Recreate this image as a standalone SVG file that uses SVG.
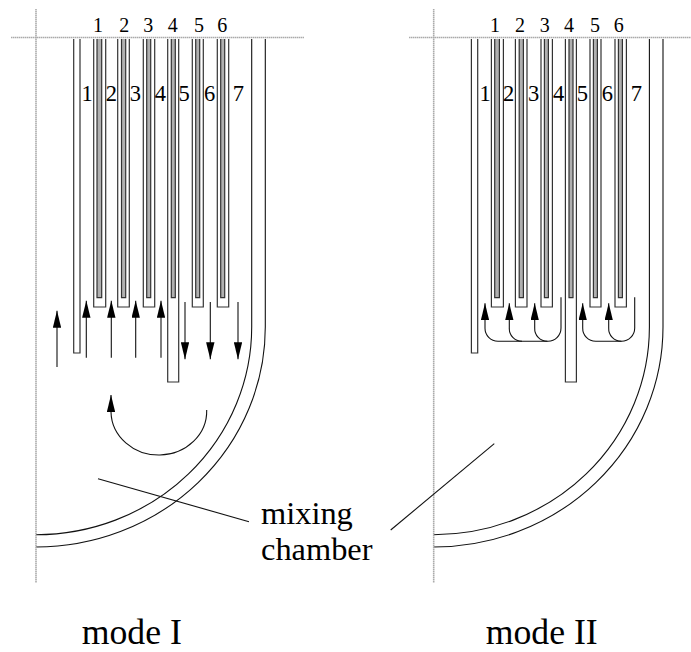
<svg xmlns="http://www.w3.org/2000/svg" xmlns:xlink="http://www.w3.org/1999/xlink" width="691" height="652" viewBox="0 0 691 652">
<style>
text{font-family:"Liberation Serif","Times New Roman",serif;fill:#000}
.n{font-size:20px;text-anchor:middle}
.m{font-size:22.5px;text-anchor:middle}
.big{font-size:32.4px}
.mode{font-size:35.7px}
.axis{stroke:#aaa;stroke-width:1.6;fill:none;stroke-dasharray:1.5 .5}
.w{stroke:#111;stroke-width:1.1;fill:none}
.tube{stroke:#333;stroke-width:1.2;fill:#fff}
.core{stroke:#333;stroke-width:1.2;fill:#b0b0b0}
.a{stroke:#111;stroke-width:1.1;fill:none}
.up{marker-end:url(#head)}
</style>
<defs>
<marker id="head" markerUnits="userSpaceOnUse" markerWidth="17" markerHeight="8.4" refX="17" refY="4.2" viewBox="0 0 17 8.4" orient="auto"><path d="M0 0L17 4.2L0 8.4Z" fill="#000"/></marker>
<g id="vessel">
<path class="w" d="M251.7 39V327A215.7 207.7 0 0 1 36 534.7"/>
<path class="w" d="M265.3 39V327A229.3 220 0 0 1 36 547"/>
<path class="tube" d="M73.7 39V353H80V39"/>
<path class="tube" d="M93.7 39V307H105.7V39"/><path class="core" d="M97 39V297.7H101.7V39"/>
<path class="tube" d="M117.7 39V307H129.3V39"/><path class="core" d="M121.5 39V297.7H125.7V39"/>
<path class="tube" d="M143.3 39V307H154.7V39"/><path class="core" d="M146.7 39V297.7H150.7V39"/>
<path class="tube" d="M167.7 39V382H178.7V39"/><path class="core" d="M171.3 39V297.7H175.3V39"/>
<path class="tube" d="M192.3 39V307H203.3V39"/><path class="core" d="M195.7 39V297.7H199.7V39"/>
<path class="tube" d="M217.3 39V307H228.7V39"/><path class="core" d="M220.7 39V297.7H224.7V39"/>
<path class="axis" d="M36 9V583"/>
</g>
</defs>
<g id="mode-1-vessel">
<use xlink:href="#vessel" href="#vessel"/>
<path class="axis" d="M11 37.5H304"/>
<g id="mode-1-outer-labels"><text class="n" x="98" y="32">1</text><text class="n" x="124.3" y="32">2</text><text class="n" x="148.3" y="32">3</text><text class="n" x="172.7" y="32">4</text><text class="n" x="199" y="32">5</text><text class="n" x="222.3" y="32">6</text></g>
<g id="mode-1-inner-labels"><text class="m" x="87" y="101">1</text><text class="m" x="111.3" y="101">2</text><text class="m" x="135.3" y="101">3</text><text class="m" x="160.3" y="101">4</text><text class="m" x="184" y="101">5</text><text class="m" x="209.7" y="101">6</text><text class="m" x="238.3" y="101">7</text></g>
</g>
<g id="mode-2-vessel">
<use xlink:href="#vessel" href="#vessel" transform="translate(397.7 0)"/>
<path class="axis" d="M409 37.5H691"/>
<g id="mode-2-outer-labels"><text class="n" x="495" y="32">1</text><text class="n" x="520" y="32">2</text><text class="n" x="544.7" y="32">3</text><text class="n" x="569" y="32">4</text><text class="n" x="595" y="32">5</text><text class="n" x="618.7" y="32">6</text></g>
<g id="mode-2-inner-labels"><text class="m" x="485" y="101">1</text><text class="m" x="508.7" y="101">2</text><text class="m" x="533.7" y="101">3</text><text class="m" x="558.7" y="101">4</text><text class="m" x="582.3" y="101">5</text><text class="m" x="607.3" y="101">6</text><text class="m" x="636.3" y="101">7</text></g>
</g>
<g id="connectors">
<path class="a up" d="M57 367V310.7"/>
<path class="a up" d="M86.3 357.7V300.7"/>
<path class="a up" d="M111.3 357.7V300.7"/>
<path class="a up" d="M135.7 357.7V300.7"/>
<path class="a up" d="M161 357.7V300.7"/>
<path class="a up" d="M185 302V359.3"/>
<path class="a up" d="M210.3 302V359.3"/>
<path class="a up" d="M238 302V359.3"/>
<path class="a up" d="M206.7 410A47.8 44 0 0 1 111 412V395"/>
<path class="a" d="M98 478.7L249 521.7"/>
<path class="a" d="M390.7 530L494.3 443.7"/>
<path class="a up" d="M561 297.3V328A13.3 13.3 0 0 1 548 341.3H498A13 13 0 0 1 485 328V303.3"/>
<path class="a up" d="M522 341.3A12.7 12.7 0 0 1 509.3 328V303.3"/>
<path class="a up" d="M547.4 341.3A12.7 12.7 0 0 1 534.7 328V303.3"/>
<path class="a up" d="M634.7 297.3V328A13.3 13.3 0 0 1 621.4 341.3H595.7A13 13 0 0 1 582.7 328V303.3"/>
<path class="a up" d="M621.4 341.3A12.7 12.7 0 0 1 608.7 328V303.3"/>
</g>
<g id="label-mixing-chamber"><text class="big" x="261" y="524.3">mixing</text><text class="big" x="261" y="560">chamber</text></g>
<g id="label-mode-1"><text class="mode" x="81.7" y="644">mode I</text></g>
<g id="label-mode-2"><text class="mode" x="485.7" y="644">mode II</text></g>
</svg>
